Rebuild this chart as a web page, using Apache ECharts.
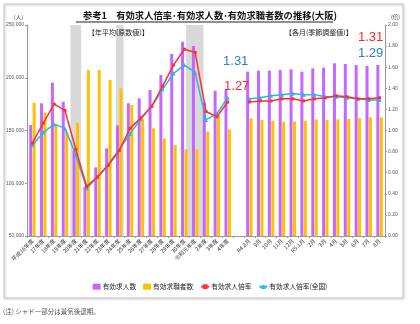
<!DOCTYPE html>
<html><head><meta charset="utf-8">
<script src="https://cdn.jsdelivr.net/npm/echarts@6/dist/echarts.min.js"></script>
<style>html,body{margin:0;padding:0;background:#fff}#c{width:420px;height:324px}</style>
</head><body><div id="c"></div>
<script>
const categories = ["平成16年度","17年度","18年度","19年度","20年度","21年度","22年度","23年度","24年度","25年度","26年度","27年度","28年度","29年度","30年度","令和元年度","2年度","3年度","4年度","","R4.8月","9月","10月","11月","12月","R5.1月","2月","3月","4月","5月","6月","7月","8月"];
const jobOffers = [155200,175800,195300,177300,131000,96700,115100,133100,154900,175800,180500,188400,202600,222500,234200,230100,176400,187700,188400,null,205800,206700,206700,207300,208000,205800,208900,209600,213700,213000,212100,211100,212100];
const jobSeekers = [176400,166900,156200,149000,157400,207300,207300,197900,190000,174200,160600,152100,142600,136200,132200,132200,149000,164700,151000,null,161600,160000,159300,158400,158400,159300,160600,160000,160600,161000,161600,162500,162500];
const ratioOsaka = [0.88,1.07,1.25,1.19,0.82,0.47,0.56,0.67,0.81,1.02,1.12,1.23,1.42,1.62,1.77,1.74,1.18,1.13,1.27,null,1.27,1.28,1.28,1.30,1.30,1.28,1.30,1.31,1.33,1.32,1.30,1.30,1.31];
const ratioNational = [0.86,0.98,1.06,1.02,0.77,0.45,0.56,0.68,0.82,0.97,1.11,1.23,1.39,1.54,1.62,1.55,1.10,1.16,1.31,null,1.30,1.31,1.33,1.34,1.35,1.34,1.34,1.32,1.32,1.31,1.30,1.29,1.29];
const recessions = [[4,5],[8.2,8.9],[14.67,16.27]];
const leftTicks = {min:50000,max:250000,interval:50000};
const rightTicks = {min:0,max:2,interval:0.2};

const CJK = '"Noto Sans CJK JP", sans-serif';
const chart = echarts.init(document.getElementById('c'), null, {renderer:'canvas'});

function withLabels(arr, labelIdx, color) {
  return arr.map((v, i) => {
    if (labelIdx[i]) {
      return {value: v, label: {show: true, position: 'top', offset: labelIdx[i],
        formatter: p => p.value.toFixed(2), color: color, fontSize: 13,
        fontFamily: '"Liberation Sans Narrow", "Liberation Sans", sans-serif'}};
    }
    return v;
  });
}

const option = {
  animation: false,
  backgroundColor: '#fff',
  title: {
    text: '参考1　有効求人倍率･有効求人数･有効求職者数の推移(大阪)',
    left: 'center', top: 6,
    textStyle: {fontSize: 9.3, fontWeight: 'bold', color: '#111', fontFamily: CJK}
  },
  legend: {
    bottom: 29, left: 'center', itemGap: 7,
    itemWidth: 8, itemHeight: 6,
    textStyle: {fontSize: 6.7, color: '#222', fontFamily: CJK, padding: [0,0,0,-3]},
    data: [
      {name: '有効求人数', icon: 'rect'},
      {name: '有効求職者数', icon: 'rect'},
      {name: '有効求人倍率'},
      {name: '有効求人倍率(全国)'}
    ]
  },
  grid: {left: 27, right: 35, top: 25, bottom: 88},
  xAxis: [{
    type: 'category', data: categories,
    axisLine: {lineStyle: {color: '#999'}},
    axisTick: {show: true, length: 2, lineStyle: {color: '#999'}},
    axisLabel: {rotate: 45, fontSize: 5.5, color: '#333', interval: 0, margin: 4, fontFamily: CJK}
  }, {
    type: 'value', min: 0, max: categories.length, show: false
  }],
  yAxis: [{
    type: 'value', min: leftTicks.min, max: leftTicks.max, interval: leftTicks.interval,
    name: '(人)', nameGap: 5, nameTextStyle: {fontSize: 5.5, color: '#444', fontFamily: CJK, align: 'right', padding:[0,4,0,0]},
    axisLine: {show: true, lineStyle: {color: '#999'}},
    axisTick: {show: true, length: 2, lineStyle: {color: '#999'}},
    splitLine: {show: false},
    axisLabel: {fontSize: 5, color: '#555', margin: 3,
      formatter: v => v.toLocaleString('en-US')}
  }, {
    type: 'value', min: rightTicks.min, max: rightTicks.max, interval: rightTicks.interval,
    name: '(倍)', nameGap: 5, nameTextStyle: {fontSize: 5.5, color: '#444', fontFamily: CJK, align: 'left', padding:[0,0,0,6]},
    axisLine: {show: true, lineStyle: {color: '#999'}},
    axisTick: {show: true, length: 2, lineStyle: {color: '#999'}},
    splitLine: {show: false},
    axisLabel: {fontSize: 5, color: '#555', margin: 3, formatter: v => v.toFixed(2)}
  }],
  series: [
    {
      name: 'shade', type: 'line', xAxisIndex: 1, yAxisIndex: 0, data: [[0, 50000]],
      symbol: 'none', lineStyle: {opacity: 0}, silent: true, z: 0,
      markArea: {silent: true, itemStyle: {color: '#d9d9d9'},
        data: recessions.map(r => [{xAxis: r[0]}, {xAxis: r[1]}])}
    },
    {name: '有効求人数', type: 'bar', data: jobOffers, barWidth: 3, barGap: '15%',
      itemStyle: {color: '#c566ff'}, z: 2},
    {name: '有効求職者数', type: 'bar', data: jobSeekers, barWidth: 3, barGap: '15%',
      itemStyle: {color: '#ffc000'}, z: 2},
    {name: '有効求人倍率', type: 'line', yAxisIndex: 1,
      data: withLabels(ratioOsaka, {18: [9, -3], 32: [-9, -47]}, '#ff2b2b'),
      symbol: 'rect', symbolSize: 3, lineStyle: {width: 1.5, color: '#ff3030'},
      itemStyle: {color: '#ff3030'}, z: 4},
    {name: '有効求人倍率(全国)', type: 'line', yAxisIndex: 1,
      data: withLabels(ratioNational, {18: [8, -23], 32: [-9, -33]}, '#2f7fc8'),
      symbol: 'triangle', symbolSize: 4, lineStyle: {width: 1.5, color: '#2ab4e8'},
      itemStyle: {color: '#2ab4e8'}, z: 3}
  ],
  graphic: [
    {type: 'rect', shape: {x: 4, y: 4, width: 399, height: 294}, z: -10,
      style: {fill: 'none', stroke: '#c4c4c4', lineWidth: 1, shadowColor: 'rgba(0,0,0,0.25)', shadowBlur: 2, shadowOffsetX: 1, shadowOffsetY: 1}},
    {type: 'line', shape: {x1: 76, y1: 22, x2: 333, y2: 22}, z: 100, style: {stroke: '#222', lineWidth: 1}},
    {type: 'text', left: 88, top: 29, z: 100, style: {text: '【年平均(原数値)】', fontSize: 7, fill: '#222', fontFamily: CJK}},
    {type: 'text', left: 285, top: 29, z: 100, style: {text: '【各月(季節調整値)】', fontSize: 7, fill: '#222', fontFamily: CJK}},
    {type: 'text', left: 3, top: 308, z: 100, style: {text: '(注) シャドー部分は景気後退期。', fontSize: 6.5, fill: '#555', fontFamily: CJK}}
  ]
};
chart.setOption(option);
</script>
</body></html>
